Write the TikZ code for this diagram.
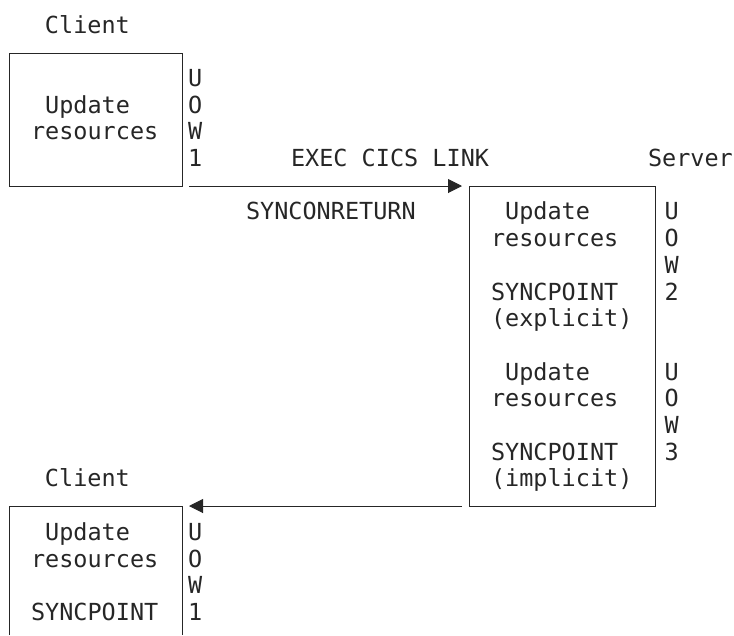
\documentclass[tikz,border=0pt]{standalone}
\usepackage{fontspec}
\usepackage{tikz}
\usetikzlibrary{arrows.meta}

\newfontfamily\chartmono{DejaVu Sans Mono}
\newcommand{\chartfont}{\chartmono\fontsize{23.5}{26.7}\selectfont}

\begin{document}
\begin{tikzpicture}[x=1pt, y=-1pt,
    every node/.style={font=\chartfont, text=black!85, inner sep=0pt, outer sep=0pt},
    txt/.style={align=left, anchor=north west},
    frame/.style={draw=black!85, line width=1pt, anchor=north west},
    flow/.style={-{Triangle[length=14pt,width=14pt]}, line width=1pt, draw=black!85}]
      % \draw[help lines] (0,0) grid[step=50] (734,635);
    \useasboundingbox (0,0) rectangle (734,635);

    \node[frame, minimum width=173pt, minimum height=133pt]             (client_1) at (9,53) {};
    \node[frame, minimum width=186pt, minimum height=320pt]             (server) at (469,186) {};
    \node[anchor=north west, minimum width=173pt, minimum height=129pt] (client_2) at (9,506) {};
    \draw[frame] (client_2.south west) |- (client_2.north east) -- (client_2.south east);

    \node[txt] (client_top)  at (45,14.31)     {\strut Client};
    \node[txt] (work_1)      at (31,94.41)     {\strut\hphantom{x}Update\\resources};
    \node[txt] (uow_1)       at (188,67.71)    {\strut U\\O\\W\\1};
    \node[txt] (link_lbl)    at (291,147.81)   {\strut EXEC CICS LINK};
    \node[txt] (server_lbl)  at (648,147.81)   {\strut Server};
    \node[txt] (sync_lbl)    at (246,201.21)   {\strut SYNCONRETURN};
    \node[txt] (work_srv)    at (491,201.21)   {\strut\hphantom{x}Update\\resources\\[\baselineskip]SYNCPOINT\\(explicit)\\[\baselineskip]\hphantom{x}Update\\resources\\[\baselineskip]SYNCPOINT\\(implicit)};
    \node[txt] (uow_2)       at (664.5,201.21) {\strut U\\O\\W\\2};
    \node[txt] (uow_3)       at (664.5,361.41) {\strut U\\O\\W\\3};
    \node[txt] (client_bot)  at (45,468.21)    {\strut Client};
    \node[txt] (work_2)      at (31,521.61)    {\strut\hphantom{x}Update\\resources\\[\baselineskip]SYNCPOINT};
    \node[txt] (uow_4)       at (188,521.61)   {\strut U\\O\\W\\1};

    \draw[flow] ([xshift=7pt]client_1.south east) -- ([xshift=-7pt]server.north west);
    \draw[flow] ([xshift=-7pt]server.south west) -- ([xshift=7pt]client_2.north east);
  \end{tikzpicture}
\end{document}
